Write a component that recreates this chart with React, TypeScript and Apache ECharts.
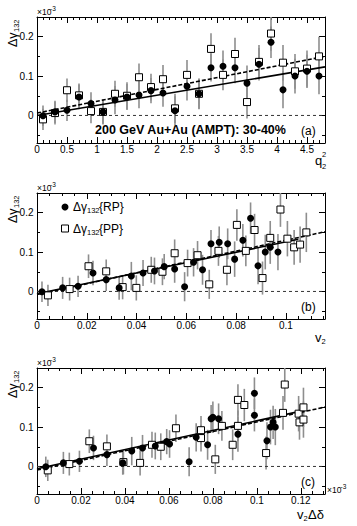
import React, { useEffect, useRef } from 'react';
import * as echarts from 'echarts';

const FONT = '"Liberation Sans", Arial, Helvetica, sans-serif';

// Δγ132 (×10^-3) for the 24 q2^2 bins, same values in every panel
const gammaRP = [-0.001, 0.009, 0.013, 0.047, 0.030, 0.009, 0.039, 0.047, 0.052, 0.063, 0.057, 0.012, 0.074, 0.055, 0.121, 0.125, 0.121, 0.082, 0.130, 0.186, 0.065, 0.100, 0.112, 0.100];
const gammaPP = [-0.010, 0.006, 0.064, 0.051, 0.011, 0.009, 0.055, 0.050, 0.097, 0.072, 0.092, 0.018, 0.103, 0.055, 0.169, 0.103, 0.156, 0.034, 0.136, 0.208, 0.134, 0.112, 0.119, 0.150];
const errRP = [0.026, 0.028, 0.027, 0.031, 0.029, 0.030, 0.036, 0.033, 0.034, 0.032, 0.035, 0.037, 0.036, 0.038, 0.035, 0.040, 0.039, 0.045, 0.041, 0.040, 0.047, 0.044, 0.042, 0.046];
const errPP = [0.027, 0.029, 0.030, 0.030, 0.031, 0.032, 0.033, 0.034, 0.035, 0.034, 0.036, 0.037, 0.038, 0.039, 0.040, 0.039, 0.041, 0.042, 0.043, 0.044, 0.045, 0.044, 0.046, 0.050];

// x positions
const q2sq = [0.1, 0.3, 0.5, 0.7, 0.9, 1.1, 1.3, 1.5, 1.7, 1.9, 2.1, 2.3, 2.5, 2.7, 2.9, 3.1, 3.3, 3.5, 3.7, 3.9, 4.1, 4.3, 4.5, 4.7];
const v2RP = [0.002, 0.0103, 0.0165, 0.0225, 0.0278, 0.033, 0.0379, 0.0426, 0.0472, 0.0511, 0.0553, 0.0593, 0.0629, 0.0665, 0.0699, 0.0732, 0.0766, 0.0794, 0.0827, 0.0858, 0.0888, 0.0917, 0.0937, 0.0968];
const v2PP = [0.0044, 0.0131, 0.0207, 0.0278, 0.0344, 0.0399, 0.0459, 0.0504, 0.0553, 0.0605, 0.0645, 0.0692, 0.0729, 0.0763, 0.0803, 0.0839, 0.0874, 0.0906, 0.0937, 0.0978, 0.1006, 0.1033, 0.1057, 0.1082];
const v2dRP = [0.004, 0.012, 0.0193, 0.0257, 0.0318, 0.039, 0.0431, 0.048, 0.0538, 0.059, 0.0603, 0.0692, 0.0724, 0.0776, 0.0792, 0.0800, 0.0826, 0.0914, 0.0989, 0.0989, 0.1046, 0.1062, 0.1074, 0.1084];
const v2dPP = [0.0049, 0.0147, 0.0238, 0.0318, 0.0393, 0.0469, 0.0523, 0.0563, 0.0632, 0.0746, 0.0746, 0.0811, 0.0841, 0.089, 0.0914, 0.0914, 0.0943, 0.1042, 0.1119, 0.1127, 0.119, 0.1194, 0.1212, 0.1212];

// linear fits: [intercept, slope, xFrom, xTo]
const fitRPa = [0.0, 0.0257, 0, 4.8];
const fitPPa = [0.006, 0.030, 0, 4.8];
const fitRPb = [-0.006, 1.32, 0, 0.105];
const fitPPb = [-0.008, 1.38, 0, 0.1157];
const fitRPc = [-0.006, 1.22, 0, 0.118];
const fitPPc = [-0.009, 1.22, 0, 0.131];

// ticks
const yMajor = [0, 0.1, 0.2];
const yMinor = [-0.05, 0.05, 0.15];
const xMajorA = [0, 0.5, 1, 1.5, 2, 2.5, 3, 3.5, 4, 4.5];
const xMajorB = [0, 0.02, 0.04, 0.06, 0.08, 0.1];
const xMajorC = [0, 0.02, 0.04, 0.06, 0.08, 0.1, 0.12];

const GRID_LEFT = 37;
const GRID_W = 288;
const GRID_H = 126;
const Y_MIN = -0.07;
const Y_MAX = 0.25;

function minorsOf(majors: number[], step: number, max: number) {
  const out: number[] = [];
  const n = Math.floor(max / step + 1e-6);
  for (let i = 1; i <= n; i++) {
    const v = +(i * step).toFixed(6);
    if (!majors.some((m) => Math.abs(m - v) < 1e-9) && v < max) out.push(v);
  }
  return out;
}

const fmt = (v: number) => String(parseFloat(Number(v).toFixed(4)));

const panels = [
  { top: 17, xMax: 4.8, xMajor: xMajorA, xStep: 0.1, xRP: q2sq, xPP: q2sq, fitRP: fitRPa, fitPP: fitPPa },
  { top: 193, xMax: 0.1157, xMajor: xMajorB, xStep: 0.005, xRP: v2RP, xPP: v2PP, fitRP: fitRPb, fitPP: fitPPb },
  { top: 368, xMax: 0.131, xMajor: xMajorC, xStep: 0.005, xRP: v2dRP, xPP: v2dPP, fitRP: fitRPc, fitPP: fitPPc },
];

function buildOption() {
  const grid: any[] = [];
  const xAxis: any[] = [];
  const yAxis: any[] = [];
  const series: any[] = [];
  const graphic: any[] = [];

  const tickStyle = { color: '#000', width: 1 };
  const lineOn = { show: true, onZero: false, lineStyle: { color: '#000', width: 1 } };
  const lineOff = { show: false, onZero: false };

  panels.forEach((p, gi) => {
    grid.push({ left: GRID_LEFT, top: p.top, width: GRID_W, height: GRID_H, containLabel: false, outerBoundsMode: 'none' });
    const xMinor = minorsOf(p.xMajor, p.xStep, p.xMax);
    const xb = { type: 'value', gridIndex: gi, min: 0, max: p.xMax, splitLine: { show: false } };
    xAxis.push(
      { ...xb, position: 'bottom', axisLine: lineOn, axisTick: { show: true, inside: true, length: 6, customValues: p.xMajor, lineStyle: tickStyle }, axisLabel: { show: true, customValues: p.xMajor, formatter: fmt, margin: 1.5, fontSize: 10, fontFamily: FONT, color: '#000' } },
      { ...xb, position: 'bottom', axisLine: lineOff, axisTick: { show: true, inside: true, length: 3, customValues: xMinor, lineStyle: tickStyle }, axisLabel: { show: false } },
      { ...xb, position: 'top', axisLine: lineOn, axisTick: { show: true, inside: true, length: 6, customValues: p.xMajor, lineStyle: tickStyle }, axisLabel: { show: false } },
      { ...xb, position: 'top', axisLine: lineOff, axisTick: { show: true, inside: true, length: 3, customValues: xMinor, lineStyle: tickStyle }, axisLabel: { show: false } },
    );
    const yb = { type: 'value', gridIndex: gi, min: Y_MIN, max: Y_MAX, splitLine: { show: false } };
    yAxis.push(
      { ...yb, position: 'left', axisLine: lineOn, axisTick: { show: true, inside: true, length: 6, customValues: yMajor, lineStyle: tickStyle }, axisLabel: { show: true, customValues: yMajor, formatter: fmt, margin: 3.5, fontSize: 10, fontFamily: FONT, color: '#000' } },
      { ...yb, position: 'left', axisLine: lineOff, axisTick: { show: true, inside: true, length: 3, customValues: yMinor, lineStyle: tickStyle }, axisLabel: { show: false } },
      { ...yb, position: 'right', axisLine: lineOn, axisTick: { show: true, inside: true, length: 6, customValues: yMajor, lineStyle: tickStyle }, axisLabel: { show: false } },
      { ...yb, position: 'right', axisLine: lineOff, axisTick: { show: true, inside: true, length: 3, customValues: yMinor, lineStyle: tickStyle }, axisLabel: { show: false } },
    );

    const xi = gi * 4;
    const yi = gi * 4;
    const errSeries = (xs: number[], ys: number[], es: number[]) => ({
      type: 'custom', xAxisIndex: xi, yAxisIndex: yi, clip: true, silent: true, z: 1,
      data: xs.map((x, i) => [x, ys[i], es[i]]),
      encode: { x: 0, y: 1 },
      renderItem: (_params: any, api: any) => {
        const x = api.value(0), y = api.value(1), e = api.value(2);
        const a = api.coord([x, y - e]);
        const b = api.coord([x, y + e]);
        return { type: 'line', shape: { x1: a[0], y1: a[1], x2: b[0], y2: b[1] }, style: { stroke: '#8e8e8e', lineWidth: 1.6 } };
      },
    });
    series.push(errSeries(p.xPP, gammaPP, errPP));
    series.push(errSeries(p.xRP, gammaRP, errRP));

    series.push({
      type: 'line', xAxisIndex: xi, yAxisIndex: yi, symbol: 'none', silent: true, z: 2,
      data: [[0, 0], [p.xMax, 0]],
      lineStyle: { color: '#333', width: 1, type: [3, 3] },
    });
    const fitLine = (f: number[], dashed: boolean) => ({
      type: 'line', xAxisIndex: xi, yAxisIndex: yi, symbol: 'none', silent: true, z: 3,
      data: [[f[2], f[0] + f[1] * f[2]], [f[3], f[0] + f[1] * f[3]]],
      lineStyle: { color: '#000', width: 1.6, type: dashed ? [4, 2] : 'solid' },
    });
    series.push(fitLine(p.fitPP, true));
    series.push(fitLine(p.fitRP, false));

    series.push({
      type: 'scatter', xAxisIndex: xi, yAxisIndex: yi, z: 4, silent: true,
      symbol: 'rect', symbolSize: 7,
      data: p.xPP.map((x, i) => [x, gammaPP[i]]),
      itemStyle: { color: '#fff', borderColor: '#000', borderWidth: 1, opacity: 1 },
    });
    series.push({
      type: 'scatter', xAxisIndex: xi, yAxisIndex: yi, z: 5, silent: true,
      symbol: 'circle', symbolSize: 7,
      data: p.xRP.map((x, i) => [x, gammaRP[i]]),
      itemStyle: { color: '#000', opacity: 1 },
    });

    const T = p.top;
    // ×10^-3 exponent above y axis
    graphic.push({ type: 'text', x: 37, y: T - 5, style: { text: '×10', font: `8.5px ${FONT}`, fill: '#000', align: 'left', verticalAlign: 'middle' } });
    graphic.push({ type: 'text', x: 50, y: T - 9, style: { text: '-3', font: `6.5px ${FONT}`, fill: '#000', align: 'left', verticalAlign: 'middle' } });
    // y title rotated
    graphic.push({
      type: 'group', x: 12.5, y: T + 30, rotation: Math.PI / 2,
      children: [
        { type: 'text', x: 0, y: 0, style: { text: 'Δγ', font: `12.5px ${FONT}`, fill: '#000', align: 'left', verticalAlign: 'middle' } },
        { type: 'text', x: 15, y: 3.5, style: { text: '132', font: `7.5px ${FONT}`, fill: '#000', align: 'left', verticalAlign: 'middle' } },
      ],
    });
  });

  // panel (a) texts
  graphic.push({ type: 'text', x: 95, y: 130, style: { text: '200 GeV Au+Au (AMPT): 30-40%', font: `bold 12.5px ${FONT}`, fill: '#000', align: 'left', verticalAlign: 'middle' } });
  graphic.push({ type: 'text', x: 301, y: 131, style: { text: '(a)', font: `12px ${FONT}`, fill: '#000', align: 'left', verticalAlign: 'middle' } });
  graphic.push({ type: 'text', x: 315, y: 160, style: { text: 'q', font: `13px ${FONT}`, fill: '#000', align: 'left', verticalAlign: 'middle' } });
  graphic.push({ type: 'text', x: 322, y: 154, style: { text: '2', font: `7.5px ${FONT}`, fill: '#000', align: 'left', verticalAlign: 'middle' } });
  graphic.push({ type: 'text', x: 322, y: 166, style: { text: '2', font: `7.5px ${FONT}`, fill: '#000', align: 'left', verticalAlign: 'middle' } });

  // panel (b) legend + texts
  graphic.push({ type: 'circle', shape: { cx: 65, cy: 207, r: 3.5 }, style: { fill: '#000' } });
  graphic.push({ type: 'text', x: 73, y: 207, style: { text: 'Δγ', font: `12px ${FONT}`, fill: '#000', align: 'left', verticalAlign: 'middle' } });
  graphic.push({ type: 'text', x: 87, y: 210.5, style: { text: '132', font: `7.5px ${FONT}`, fill: '#000', align: 'left', verticalAlign: 'middle' } });
  graphic.push({ type: 'text', x: 99, y: 207, style: { text: '{RP}', font: `12px ${FONT}`, fill: '#000', align: 'left', verticalAlign: 'middle' } });
  graphic.push({ type: 'rect', shape: { x: 61.5, y: 225, width: 7, height: 7 }, style: { fill: '#fff', stroke: '#000', lineWidth: 1 } });
  graphic.push({ type: 'text', x: 73, y: 228.5, style: { text: 'Δγ', font: `12px ${FONT}`, fill: '#000', align: 'left', verticalAlign: 'middle' } });
  graphic.push({ type: 'text', x: 87, y: 232, style: { text: '132', font: `7.5px ${FONT}`, fill: '#000', align: 'left', verticalAlign: 'middle' } });
  graphic.push({ type: 'text', x: 99, y: 228.5, style: { text: '{PP}', font: `12px ${FONT}`, fill: '#000', align: 'left', verticalAlign: 'middle' } });
  graphic.push({ type: 'text', x: 301, y: 307, style: { text: '(b)', font: `12px ${FONT}`, fill: '#000', align: 'left', verticalAlign: 'middle' } });
  graphic.push({ type: 'text', x: 315, y: 337, style: { text: 'v', font: `13px ${FONT}`, fill: '#000', align: 'left', verticalAlign: 'middle' } });
  graphic.push({ type: 'text', x: 321.5, y: 341, style: { text: '2', font: `7.5px ${FONT}`, fill: '#000', align: 'left', verticalAlign: 'middle' } });

  // panel (c) texts
  graphic.push({ type: 'text', x: 301, y: 482, style: { text: '(c)', font: `12px ${FONT}`, fill: '#000', align: 'left', verticalAlign: 'middle' } });
  graphic.push({ type: 'text', x: 297, y: 514, style: { text: 'v', font: `13px ${FONT}`, fill: '#000', align: 'left', verticalAlign: 'middle' } });
  graphic.push({ type: 'text', x: 303.5, y: 518, style: { text: '2', font: `7.5px ${FONT}`, fill: '#000', align: 'left', verticalAlign: 'middle' } });
  graphic.push({ type: 'text', x: 308, y: 514, style: { text: 'Δδ', font: `13px ${FONT}`, fill: '#000', align: 'left', verticalAlign: 'middle' } });
  graphic.push({ type: 'text', x: 327, y: 490, style: { text: '×10', font: `8.5px ${FONT}`, fill: '#000', align: 'left', verticalAlign: 'middle' } });
  graphic.push({ type: 'text', x: 340.5, y: 486, style: { text: '-3', font: `6.5px ${FONT}`, fill: '#000', align: 'left', verticalAlign: 'middle' } });

  return {
    animation: false,
    backgroundColor: '#fff',
    textStyle: { fontFamily: FONT },
    grid, xAxis, yAxis, series, graphic,
  };
}

export default function App() {
  const ref = useRef<HTMLDivElement>(null);
  useEffect(() => {
    if (!ref.current) return;
    const chart = echarts.init(ref.current, null, { renderer: 'svg' });
    chart.setOption(buildOption() as any);
    return () => chart.dispose();
  }, []);
  return <div ref={ref} style={{ position: 'absolute', left: 0, top: 0, width: 357, height: 526 }} />;
}
